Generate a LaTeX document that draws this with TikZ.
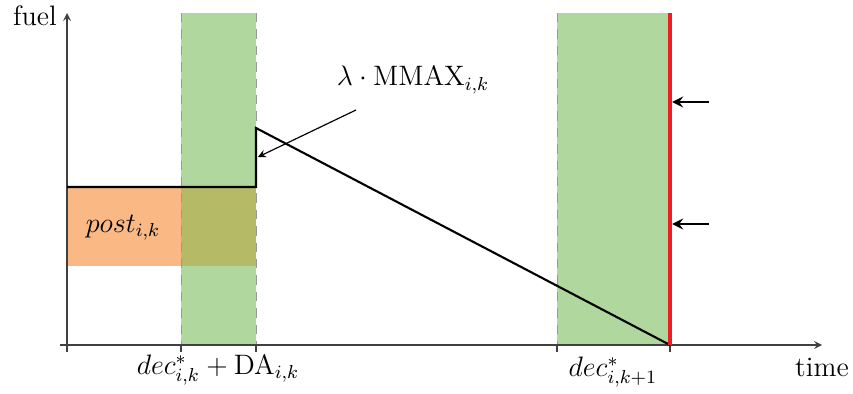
\documentclass[tikz,border=0pt]{standalone}
\usepackage{amsmath}
\definecolor{bandgreen}{RGB}{176,216,158}
\definecolor{postorange}{RGB}{249,184,132}
\definecolor{overlapolive}{RGB}{180,186,102}
\definecolor{limitred}{RGB}{238,30,36}
\begin{document}
\begin{tikzpicture}[line cap=butt,line join=miter,>=stealth,x=0.015cm,y=-0.015cm,font=\large]
	\tikzset{axis/.style={black!75,line width=0.5pt},
		border/.style={black!40,dashed,dash pattern=on 4pt off 3pt,line width=0.4pt},
		level/.style={black,line width=0.9pt},
		push/.style={->,black,line width=1.1pt}
	}
	\useasboundingbox (0,0) rectangle (853,394);
	% windows and post-level
	\fill[postorange] (67,187) rectangle (181,266);
	\fill[bandgreen] (181,13) rectangle (256,345);
	\fill[overlapolive] (181,187) rectangle (256,266);
	\fill[bandgreen] (557,13) rectangle (670,345);
	\draw[border] (181,13)--(181,352) (256,13)--(256,352) (557,13)--(557,352);
	% axes
	\draw[axis,->] (60,345)--(822,345);
	\draw[axis,->] (67,352)--(67,13);
	\foreach \t in {181,256,557,670}
		\draw[axis] (\t,345)--(\t,352);
	\node (fuel) at (35,16) {fuel};
	\node (time) at (822,367) {time};
	% fuel level
	\coordinate (start) at (67,187);
	\coordinate (refuel) at (256,187);
	\coordinate (peak) at (256,128);
	\coordinate (empty) at (670,345);
	\draw[level] (start)--(refuel)--(peak)--(empty);
	\draw[limitred,line width=1.6pt] (670,13)--(670,345);
	% labels
	\node (post) at (123,228) {$post_{i,k}$};
	\node (mmax) at (413,80) {$\lambda\cdot\mathrm{MMAX}_{i,k}$};
	\node (deca) at (218,370) {$dec^*_{i,k}+\mathrm{DA}_{i,k}$};
	\node (decb) at (613,372) {$dec^*_{i,k+1}$};
	\coordinate (tail) at (356,110);
	\coordinate (jump) at (258,157);
	\draw[->,line width=0.5pt] (tail)--(jump);
	\coordinate (pa) at (709,102);
	\coordinate (pb) at (709,224);
	\draw[push] (pa)--(672,102);
	\draw[push] (pb)--(672,224);
\end{tikzpicture}
\end{document}
